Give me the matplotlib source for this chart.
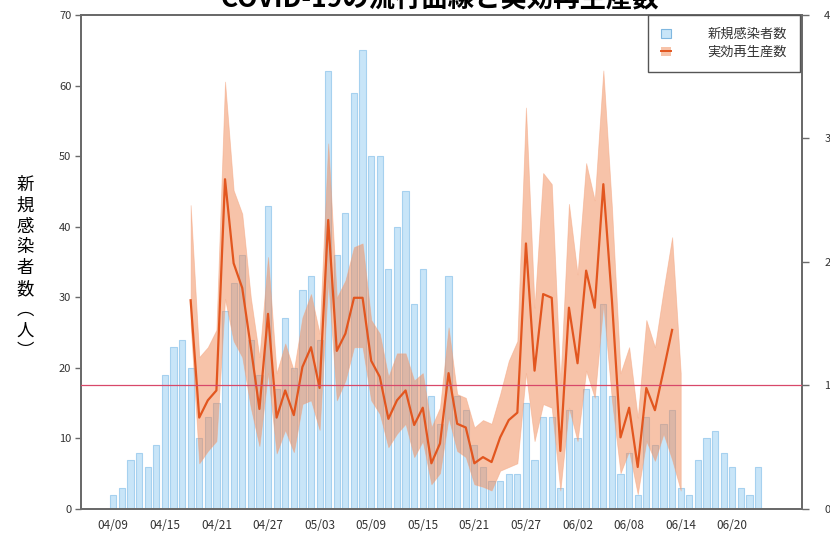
import numpy as np
import matplotlib.pyplot as plt
from matplotlib.patches import Patch
from matplotlib.lines import Line2D

plt.rcParams['font.family'] = ['Noto Sans CJK JP', 'DejaVu Sans']

# 日別の新規感染者数 (04/09 から 06/23)
new_cases = [2, 3, 7, 8, 6, 9, 19, 23, 24, 20,
             10, 13, 15, 28, 32, 36, 24, 19, 43, 17,
             27, 20, 31, 33, 24, 62, 36, 42, 59, 65,
             50, 50, 34, 40, 45, 29, 34, 16, 12, 33,
             16, 14, 9, 6, 4, 4, 5, 5, 15, 7,
             13, 13, 3, 14, 10, 17, 16, 29, 16, 5,
             8, 2, 13, 9, 12, 14, 3, 2, 7, 10,
             11, 8, 6, 3, 2, 6]

# 実効再生産数 (04/18 から 06/14) と信頼区間 (06/15 まで)
rt_start = 9
rt = [1.69, 0.74, 0.88, 0.96, 2.67, 1.99, 1.79, 1.31, 0.81, 1.58,
      0.74, 0.96, 0.76, 1.15, 1.31, 0.98, 2.34, 1.28, 1.42, 1.71,
      1.71, 1.20, 1.07, 0.73, 0.88, 0.96, 0.68, 0.82, 0.37, 0.53,
      1.10, 0.69, 0.66, 0.37, 0.42, 0.38, 0.58, 0.72, 0.78, 2.15,
      1.12, 1.74, 1.71, 0.47, 1.63, 1.18, 1.93, 1.63, 2.63, 1.69,
      0.58, 0.82, 0.34, 0.98, 0.80, 1.12, 1.45]
rt_upper = [2.46, 1.23, 1.31, 1.45, 3.46, 2.58, 2.39, 1.71, 1.23, 2.04,
            1.10, 1.34, 1.12, 1.55, 1.74, 1.42, 2.96, 1.71, 1.85, 2.12,
            2.15, 1.53, 1.42, 1.07, 1.26, 1.26, 1.04, 1.10, 0.66, 0.82,
            1.47, 0.93, 0.90, 0.66, 0.72, 0.69, 0.93, 1.20, 1.36, 3.25,
            1.63, 2.72, 2.63, 1.02, 2.47, 1.90, 2.80, 2.50, 3.55, 2.44,
            1.10, 1.31, 0.74, 1.53, 1.31, 1.77, 2.20, 1.10]
rt_lower = [1.50, 0.37, 0.47, 0.55, 1.70, 1.36, 1.23, 0.82, 0.51, 1.10,
            0.45, 0.64, 0.46, 0.85, 0.88, 0.64, 1.85, 0.88, 1.04, 1.31,
            1.31, 0.88, 0.77, 0.50, 0.61, 0.69, 0.42, 0.55, 0.20, 0.29,
            0.74, 0.47, 0.42, 0.20, 0.18, 0.15, 0.31, 0.34, 0.37, 1.10,
            0.55, 0.85, 0.82, 0.15, 0.82, 0.55, 1.12, 0.90, 1.66, 0.88,
            0.29, 0.47, 0.12, 0.55, 0.39, 0.61, 0.40, 0.15]

tick_labels = ['04/09', '04/15', '04/21', '04/27', '05/03', '05/09', '05/15',
               '05/21', '05/27', '06/02', '06/08', '06/14', '06/20']

days = np.arange(len(new_cases))
rt_days = np.arange(rt_start, rt_start + len(rt))
ci_days = np.arange(rt_start, rt_start + len(rt_upper))

fig = plt.figure(figsize=(8.3, 5.42), dpi=100)
ax = fig.add_axes([0.0976, 0.0609, 0.8686, 0.9115])
ax2 = ax.twinx()

bar_face = '#c8e5f8'
bar_edge = '#a6d1ef'
line_col = '#e2561f'
fill_col = '#f18955'

ax.bar(days, new_cases, width=0.72, color=bar_face, edgecolor=bar_edge,
       linewidth=0.8, zorder=2)

ax2.fill_between(ci_days, rt_lower, rt_upper, color=fill_col, alpha=0.5,
                 linewidth=0.6, edgecolor='#f3a27c', zorder=2)
ax2.plot(rt_days, rt, color=line_col, linewidth=1.6, zorder=3)
ax2.axhline(1, color='#d8486a', linewidth=0.9, zorder=4)

ax.set_xlim(-3.75, 80.1)
ax.set_ylim(0, 70)
ax2.set_ylim(0, 4)
ax.set_xticks(np.arange(0, 73, 6))
ax.set_xticklabels(tick_labels)
ax.set_yticks(np.arange(0, 71, 10))
ax2.set_yticks(np.arange(0, 5, 1))

for a in (ax, ax2):
    for sp in a.spines.values():
        sp.set_color('#6a6a6a')
        sp.set_linewidth(1.3)

ax.tick_params(axis='x', length=0, pad=7, labelsize=8.5, labelcolor='#333333')
ax.tick_params(axis='y', length=4, width=1, color='#6a6a6a', pad=3,
               labelsize=8, labelcolor='#333333')
ax2.tick_params(axis='y', length=5, width=1, color='#6a6a6a', pad=11,
                labelsize=8, labelcolor='#333333')

handles = [Patch(facecolor=bar_face, edgecolor='#7fb7e0', linewidth=0.8),
           (Patch(facecolor=fill_col, alpha=0.5, edgecolor='none'),
            Line2D([], [], color=line_col, linewidth=1.4))]
leg = ax2.legend(handles, ['新規感染者数', '実効再生産数'], loc='upper right',
                 bbox_to_anchor=(0.9975, 1.0), borderaxespad=0.0,
                 fancybox=False, edgecolor='#555555', framealpha=1,
                 fontsize=9.5, handlelength=0.7, handleheight=0.7,
                 handletextpad=2.8, labelspacing=0.35, borderpad=1.0)
leg.get_frame().set_linewidth(1.0)
for t in leg.get_texts():
    t.set_color('#333333')

fig.text(0.53, 1.0, 'COVID-19の流行曲線と実効再生産数', ha='center',
         va='center', fontsize=19, fontweight='bold')
fig.text(0.030, 0.505, '\n'.join('新規感染者数︵人︶'), ha='center',
         va='center', fontsize=12.5, linespacing=1.2)

fig.savefig('out.png', dpi=100)
